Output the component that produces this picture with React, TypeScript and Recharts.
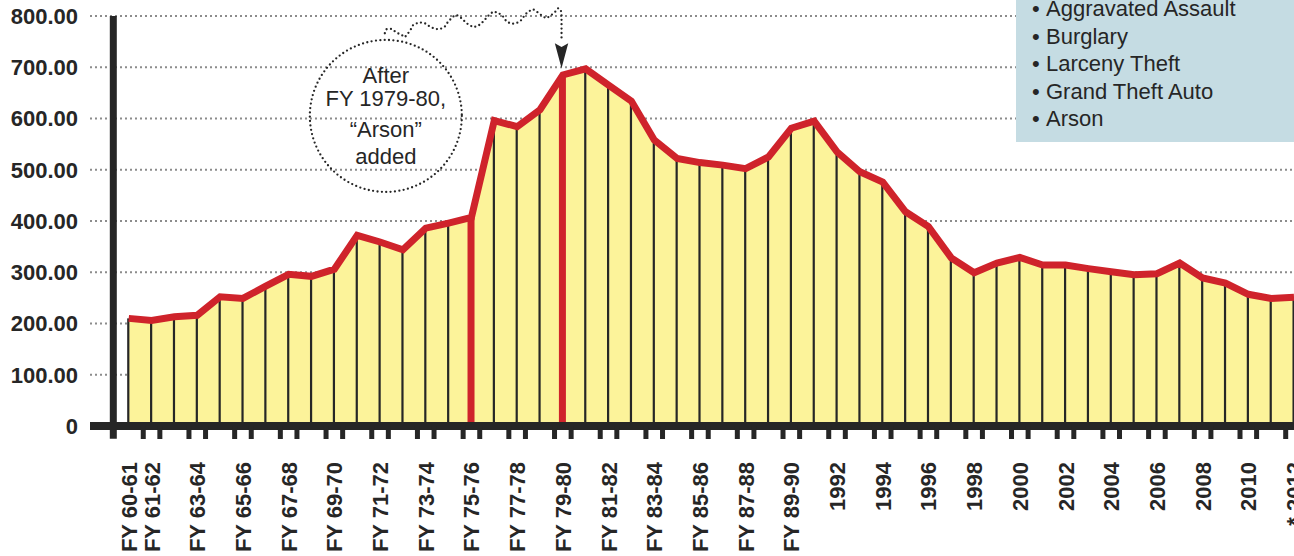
import React from "react";
import {
  Area,
  Bar,
  CartesianGrid,
  ComposedChart,
  Line,
  ReferenceDot,
  ReferenceLine,
  XAxis,
  YAxis,
} from "recharts";

// Fiscal years / calendar years, one per point (index 0 = FY 60-61)
const CATEGORIES = [
  "FY 60-61", "FY 61-62", "FY 62-63", "FY 63-64", "FY 64-65", "FY 65-66",
  "FY 66-67", "FY 67-68", "FY 68-69", "FY 69-70", "FY 70-71", "FY 71-72",
  "FY 72-73", "FY 73-74", "FY 74-75", "FY 75-76", "FY 76-77", "FY 77-78",
  "FY 78-79", "FY 79-80", "FY 80-81", "FY 81-82", "FY 82-83", "FY 83-84",
  "FY 84-85", "FY 85-86", "FY 86-87", "FY 87-88", "FY 88-89", "FY 89-90",
  "FY 90-91", "1992", "1993", "1994", "1995", "1996", "1997", "1998", "1999",
  "2000", "2001", "2002", "2003", "2004", "2005", "2006", "2007", "2008",
  "2009", "2010", "2011", "* 2012",
];

const RATES = [
  210, 206, 213, 216, 252, 249, 273, 296, 292, 306, 372, 359, 344, 386, 396,
  407, 596, 584, 617, 685, 697, 665, 634, 558, 522, 514, 509, 502, 525, 581,
  595, 535, 496, 476, 418, 389, 328, 299, 318, 329, 314, 314, 307, 301, 295,
  297, 318, 289, 279, 257, 249, 251,
];

const Y_TICKS = [0, 100, 200, 300, 400, 500, 600, 700, 800];

// points where the crime definition changed (drawn as red drop lines)
const BREAK_IDX = [15, 19];

const LEGEND_ITEMS = [
  "Aggravated Assault",
  "Burglary",
  "Larceny Theft",
  "Grand Theft Auto",
  "Arson",
];

const NOTE_LINES = ["After", "FY 1979-80,", "\u201CArson\u201D", "added"];

const INK = "#262626";
const RED = "#cf232b";
const FILL = "#fcf39a";
const FONT = "'Liberation Sans', Arial, Helvetica, sans-serif";

const X_MIN = -1.694;
const Y_AXIS_AT = -0.674;

const data = RATES.map((rate, i) => ({ i, name: CATEGORIES[i], rate }));
const xTicks = data.map((d) => d.i);

function XTick(props: any) {
  const { x, y, payload } = props;
  const i = payload.value as number;
  const odd = i % 2 === 1;
  const showLabel = i === 0 || odd;
  return (
    <g>
      {odd && (
        <>
          <rect x={x - 10.8} y={y} width={5} height={13} fill={INK} />
          <rect x={x + 5.8} y={y} width={5} height={13} fill={INK} />
        </>
      )}
      {showLabel && (
        <text
          transform={`translate(${x + 8},${y + 36}) rotate(-90)`}
          textAnchor="end"
          fontFamily={FONT}
          fontWeight="bold"
          fontSize={22}
          fill={INK}
        >
          {CATEGORIES[i]}
        </text>
      )}
    </g>
  );
}

function DropLine(props: any) {
  const { x, y, width, height, payload } = props;
  if (height == null || height <= 0) return <g />;
  const hot = BREAK_IDX.includes(payload.i);
  const w = hot ? 7 : 2.2;
  const cx = x + width / 2;
  return (
    <rect x={cx - w / 2} y={y} width={w} height={height} fill={hot ? RED : INK} />
  );
}

// wavy "thought" tail, offsets from the FY 79-80 point
const TAIL = [
  [-178, -41.7], [-176.3, -45.7], [-171.3, -46], [-166.3, -42.3], [-161.3, -40],
  [-158, -37.7], [-154.7, -41.7], [-151.3, -46.7], [-149.7, -50], [-143.7, -52.7],
  [-138, -51.7], [-133, -48.3], [-128, -46], [-123, -45.7], [-118, -48.3],
  [-114.7, -53.3], [-109.7, -58.3], [-106.3, -60], [-101.3, -56.7], [-96.3, -51.7],
  [-89.7, -47.7], [-84.7, -49], [-79.7, -53.3], [-74.7, -59], [-69.7, -63.3],
  [-64.7, -62.3], [-59.7, -58.3], [-56.3, -53.3], [-51.3, -51], [-46.3, -51.7],
  [-41.3, -55], [-38, -60], [-34.7, -63.3], [-29.7, -65.7], [-24.7, -62.3],
  [-19.7, -58.3], [-16.3, -56.7], [-11.3, -60], [-8, -62.7], [-4.7, -66.7],
  [-2, -65], [-1.3, -60], [-1.3, -35],
];

function Note(props: any) {
  const { cx, cy } = props;
  if (cx == null || cy == null) return <g />;
  const ox = cx - 177;
  const oy = cy;
  const tail = TAIL.map(([dx, dy]) => `${cx + dx},${cy + dy}`).join(" ");
  const tipX = cx - 1.3;
  const dotted = {
    fill: "none",
    stroke: INK,
    strokeWidth: 2.3,
    strokeLinecap: "round" as const,
    strokeDasharray: "0 4.4",
  };
  const baselines = [7.7, 31, 61.7, 89];
  return (
    <g>
      <circle cx={ox} cy={oy + 41} r={76} {...dotted} />
      <polyline points={tail} {...dotted} strokeLinejoin="round" />
      <path
        d={`M${tipX - 6.7},${cy - 31.7} L${tipX},${cy - 28} L${tipX + 6.7},${cy - 31.7} L${tipX},${cy - 6.7} Z`}
        fill={INK}
      />
      {NOTE_LINES.map((t, k) => (
        <text
          key={t}
          x={ox}
          y={oy + baselines[k]}
          textAnchor="middle"
          fontFamily={FONT}
          fontSize={22}
          fill={INK}
        >
          {t}
        </text>
      ))}
    </g>
  );
}

export default function App() {
  return (
    <div style={{ position: "absolute", left: 0, top: 0, width: 1294, height: 556, overflow: "hidden", background: "#fff" }}>
      <ComposedChart
        width={1294}
        height={556}
        data={data}
        margin={{ top: 16, right: 0, bottom: 0, left: 0 }}
      >
        <Area
          type="linear"
          dataKey="rate"
          fill={FILL}
          fillOpacity={1}
          stroke="none"
          isAnimationActive={false}
        />
        <CartesianGrid
          vertical={false}
          stroke="#8c8c8c"
          strokeWidth={2}
          strokeDasharray="2 3"
        />
        <Bar dataKey="rate" barSize={2} shape={DropLine} isAnimationActive={false} />
        <Line
          type="linear"
          dataKey="rate"
          stroke={RED}
          strokeWidth={7}
          dot={false}
          activeDot={false}
          isAnimationActive={false}
        />
        <XAxis
          dataKey="i"
          type="number"
          domain={[X_MIN, 51]}
          ticks={xTicks}
          interval={0}
          height={130}
          tickSize={0}
          tickMargin={0}
          tickLine={false}
          axisLine={{ stroke: INK, strokeWidth: 8 }}
          tick={<XTick />}
        />
        <YAxis
          domain={[0, 800]}
          ticks={Y_TICKS}
          interval={0}
          width={90}
          tickSize={0}
          tickMargin={12}
          axisLine={false}
          tickLine={false}
          tickFormatter={(v: number) => (v === 0 ? "0" : v.toFixed(2))}
          tick={{ fontFamily: FONT, fontWeight: "bold", fontSize: 22, fill: INK }}
        />
        <ReferenceLine
          segment={[
            { x: Y_AXIS_AT, y: 800 },
            { x: Y_AXIS_AT, y: -25 },
          ]}
          stroke={INK}
          strokeWidth={7}
          ifOverflow="visible"
        />
        <ReferenceDot x={19} y={RATES[19]} ifOverflow="visible" shape={Note} />
      </ComposedChart>
      <svg
        width={278}
        height={142}
        style={{ position: "absolute", left: 1016, top: 0 }}
      >
        <rect x={0} y={0} width={278} height={142} fill="#c5dce3" />
        {LEGEND_ITEMS.map((item, k) => (
          <g key={item} fontFamily={FONT} fontSize={22} fill={INK}>
            <text x={16} y={16 + k * 27.5}>{"\u2022"}</text>
            <text x={30} y={16 + k * 27.5}>{item}</text>
          </g>
        ))}
      </svg>
    </div>
  );
}
